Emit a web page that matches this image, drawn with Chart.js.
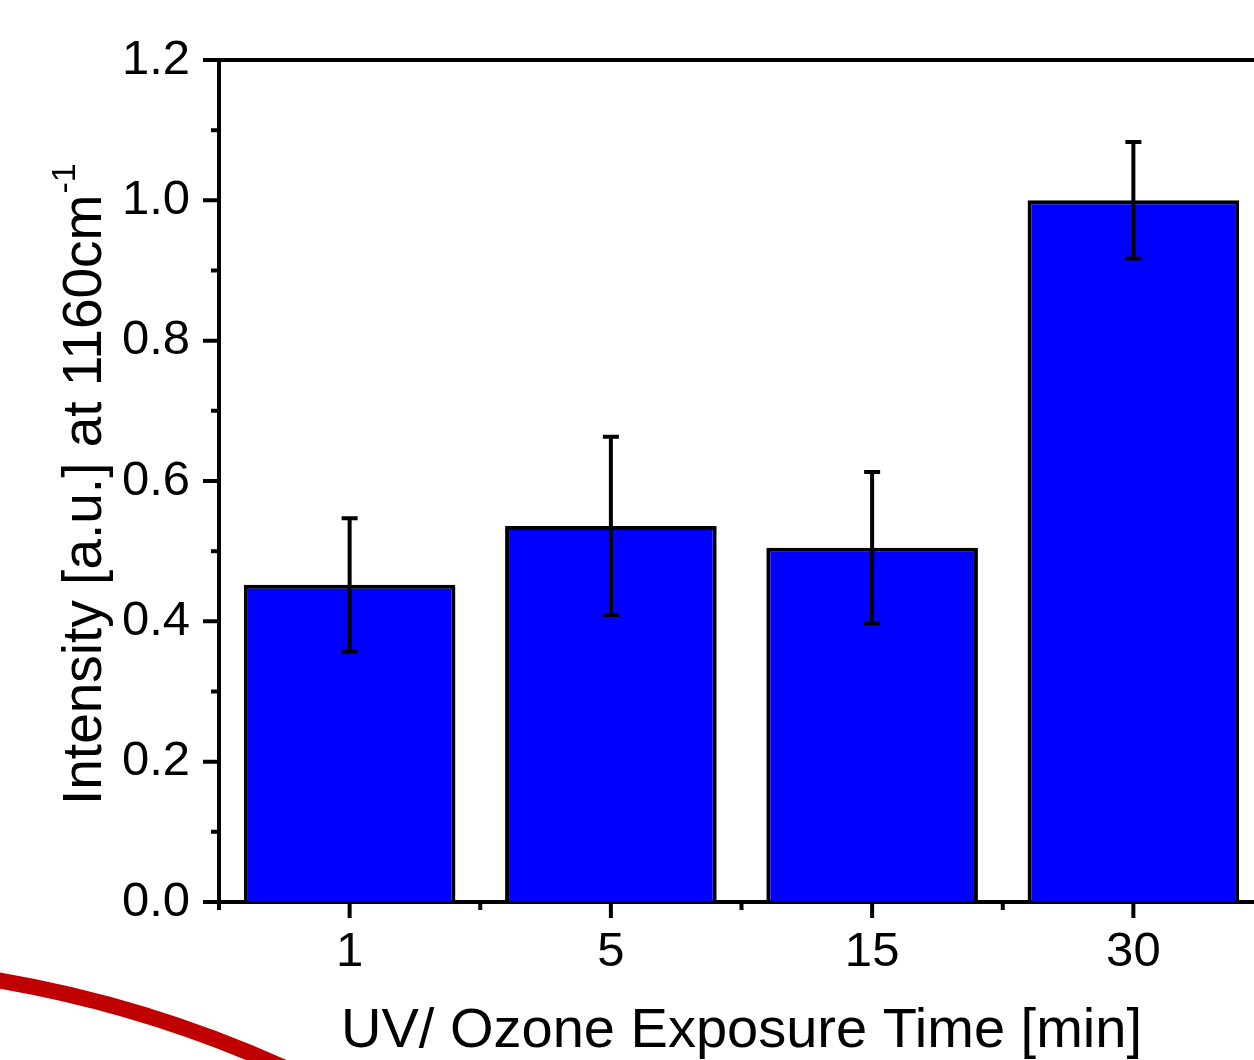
<!DOCTYPE html>
<html>
<head>
<meta charset="utf-8">
<script src="https://cdn.jsdelivr.net/npm/chart.js@4.4.0/dist/chart.umd.min.js"></script>
<style>
  html, body { margin: 0; padding: 0; background: #fff; overflow: hidden; }
  #wrap { width: 1254px; height: 1060px; overflow: hidden; position: relative; }
  #chart { display: block; }
</style>
</head>
<body>
<div id="wrap"><canvas id="chart" width="1266" height="1060"></canvas></div>
<script>
// data
const categories = ['1', '5', '15', '30'];
const intensity = [0.452, 0.536, 0.505, 1.0];
const intensityErr = [0.095, 0.127, 0.108, 0.083];
const yMajorTicks = [0, 0.2, 0.4, 0.6, 0.8, 1.0, 1.2];
const yMinorTicks = [0.1, 0.3, 0.5, 0.7, 0.9, 1.1];

const FONT = "'Liberation Sans', Arial, sans-serif";
const xTitle = 'UV/ Ozone Exposure Time [min]';
const yTitle = 'Intensity [a.u.] at 1160cm';
const yTitleSup = '-1';
const LW = 4;

// ticks + top frame, the way Origin draws them (outward)
const frameTicks = {
    id: 'frameTicks',
    afterDraw(chart) {
        const ctx = chart.ctx;
        const area = chart.chartArea;
        const xs = chart.scales.x;
        const ys = chart.scales.y;
        ctx.save();
        ctx.strokeStyle = '#000';
        ctx.lineWidth = LW;
        ctx.lineCap = 'butt';
        ctx.beginPath();
        yMajorTicks.forEach(v => {
            const py = ys.getPixelForValue(v);
            ctx.moveTo(area.left - 16, py);
            ctx.lineTo(area.left, py);
        });
        yMinorTicks.forEach(v => {
            const py = ys.getPixelForValue(v);
            ctx.moveTo(area.left - 8, py);
            ctx.lineTo(area.left, py);
        });
        categories.forEach((c, i) => {
            const px = xs.getPixelForValue(i);
            ctx.moveTo(px, area.bottom);
            ctx.lineTo(px, area.bottom + 16);
        });
        // minor x ticks at category boundaries
        for (let i = 0; i < categories.length; i++) {
            let px;
            if (i === 0) px = area.left;
            else px = (xs.getPixelForValue(i - 1) + xs.getPixelForValue(i)) / 2;
            ctx.moveTo(px, area.bottom);
            ctx.lineTo(px, area.bottom + 8);
        }
        // top frame
        ctx.moveTo(area.left - 16, area.top);
        ctx.lineTo(area.right, area.top);
        ctx.moveTo(area.right, area.top);
        ctx.lineTo(area.right, area.bottom);
        ctx.stroke();

        // axis titles
        ctx.fillStyle = '#000';
        ctx.font = '56px ' + FONT;
        ctx.textAlign = 'center';
        ctx.textBaseline = 'alphabetic';
        ctx.fillText(xTitle, (area.left + area.right) / 2, 1047);

        ctx.font = '55px ' + FONT;
        ctx.translate(101, 805);
        ctx.rotate(-Math.PI / 2);
        ctx.textAlign = 'left';
        ctx.fillText(yTitle, 0, 0);
        const w = ctx.measureText(yTitle).width;
        ctx.font = '34px ' + FONT;
        ctx.fillText(yTitleSup, w + 1, -26);
        ctx.restore();
    }
};

const errorBars = {
    id: 'errorBars',
    afterDatasetsDraw(chart) {
        const ctx = chart.ctx;
        const ys = chart.scales.y;
        const meta = chart.getDatasetMeta(0);
        ctx.save();
        ctx.strokeStyle = '#000';
        ctx.lineWidth = LW;
        meta.data.forEach((bar, i) => {
            const hi = ys.getPixelForValue(intensity[i] + intensityErr[i]);
            const lo = ys.getPixelForValue(intensity[i] - intensityErr[i]);
            const x = bar.x;
            ctx.beginPath();
            ctx.moveTo(x, hi);
            ctx.lineTo(x, lo);
            ctx.moveTo(x - 8, hi);
            ctx.lineTo(x + 8, hi);
            ctx.moveTo(x - 8, lo);
            ctx.lineTo(x + 8, lo);
            ctx.stroke();
        });
        ctx.restore();
    }
};

// red swoosh from the slide background
const slideDeco = {
    id: 'slideDeco',
    beforeDraw(chart) {
        const ctx = chart.ctx;
        ctx.save();
        ctx.strokeStyle = '#C00000';
        ctx.lineWidth = 16;
        ctx.beginPath();
        ctx.moveTo(-10, 979);
        ctx.quadraticCurveTo(150, 1005, 300, 1075);
        ctx.stroke();
        ctx.restore();
    }
};

new Chart(document.getElementById('chart'), {
    type: 'bar',
    data: {
        labels: categories,
        datasets: [{
            data: intensity,
            backgroundColor: '#0000FF',
            borderColor: '#000',
            borderWidth: LW,
            barPercentage: 0.81,
            categoryPercentage: 1.0
        }]
    },
    options: {
        responsive: false,
        animation: false,
        devicePixelRatio: 1,
        layout: { padding: { top: 60, right: 2, left: 0, bottom: 0 } },
        plugins: { legend: { display: false }, tooltip: { enabled: false } },
        scales: {
            x: {
                offset: true,
                afterFit(scale) { scale.height = 158; },
                grid: { drawOnChartArea: false, drawTicks: false },
                border: { display: true, color: '#000', width: LW },
                ticks: { color: '#000', padding: 21, font: { family: FONT, size: 49 } }
            },
            y: {
                min: 0,
                max: 1.2,
                afterFit(scale) { scale.width = 219; },
                afterBuildTicks(scale) { scale.ticks = yMajorTicks.map(v => ({ value: v })); },
                grid: { drawOnChartArea: false, drawTicks: false },
                border: { display: true, color: '#000', width: LW },
                ticks: {
                    color: '#000',
                    padding: 29,
                    font: { family: FONT, size: 49 },
                    callback: v => v.toFixed(1)
                }
            }
        }
    },
    plugins: [slideDeco, errorBars, frameTicks]
});
</script>
</body>
</html>
